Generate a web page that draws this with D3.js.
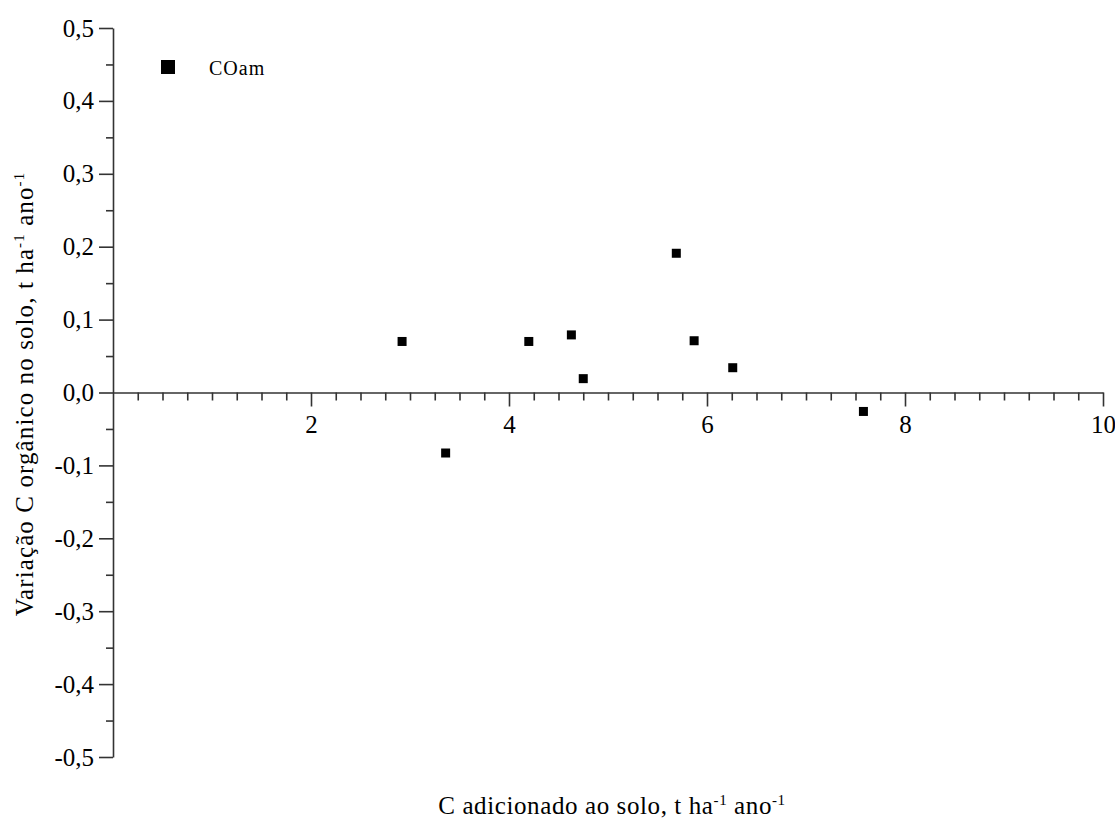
<!DOCTYPE html>
<html><head><meta charset="utf-8">
<script src="https://cdn.jsdelivr.net/npm/d3@7"></script>
<style>body{margin:0;background:#fff} svg text{font-family:"Liberation Serif","Times New Roman","DejaVu Serif",serif !important;} .tick text{font-size:25px;}</style>
</head><body>
<script>
const xValues = [2.92, 3.36, 4.20, 4.63, 4.75, 5.69, 5.87, 6.26, 7.58];
const yValues = [0.07, -0.083, 0.07, 0.079, 0.019, 0.191, 0.071, 0.034, -0.026];
const seriesName = "COam";
const xTicks = [2, 4, 6, 8, 10];
const yTicks = [-0.5, -0.4, -0.3, -0.2, -0.1, 0, 0.1, 0.2, 0.3, 0.4, 0.5];

const W = 1115, H = 818;
const svg = d3.select("body").append("svg").attr("width", W).attr("height", H);
const x = d3.scaleLinear().domain([0, 10]).range([113, 1103]);
const y = d3.scaleLinear().domain([-0.5, 0.5]).range([757, 28]);
const axisColor = "#333";
const fmt = d => d3.format(".1f")(d).replace(".", ",").replace("−", "-");

// y axis
const yAx = svg.append("g").attr("transform", `translate(${x(0)},0)`)
  .call(d3.axisLeft(y).tickValues(yTicks).tickSize(14).tickSizeOuter(0).tickFormat(fmt).tickPadding(5));
const yMinor = svg.append("g").attr("transform", `translate(${x(0)},0)`)
  .call(d3.axisLeft(y).tickValues(d3.range(-0.45, 0.5, 0.1)).tickSize(7).tickFormat(""));
// x axis
const xAx = svg.append("g").attr("transform", `translate(0,${y(0)})`)
  .call(d3.axisBottom(x).tickValues(xTicks).tickSize(14).tickSizeOuter(0).tickFormat(d3.format("d")).tickPadding(9));
const xMinor = svg.append("g").attr("transform", `translate(0,${y(0)})`)
  .call(d3.axisBottom(x).tickValues(d3.range(0.25, 10, 0.25).filter(v => Math.abs(v / 2 - Math.round(v / 2)) > 1e-6)).tickSize(8).tickFormat(""));
[yAx, yMinor, xAx, xMinor].forEach(g => {
  g.attr("font-family", null).attr("font-size", null);
  g.selectAll("path.domain").attr("stroke", axisColor).attr("stroke-width", 1.6);
  g.selectAll(".tick line").attr("stroke", axisColor).attr("stroke-width", 1.6);
  g.selectAll("text").style("font-size", "25px").attr("fill", "#000");
});
yMinor.select("path.domain").remove();
xMinor.select("path.domain").remove();

// points
const pts = xValues.map((v, i) => ({x: v, y: yValues[i]}));
const s = 9;
svg.append("g").selectAll("rect").data(pts).join("rect")
  .attr("x", d => x(d.x) - s / 2).attr("y", d => y(d.y) - s / 2)
  .attr("width", s).attr("height", s).attr("fill", "#000");

// legend
svg.append("rect").attr("x", 161).attr("y", 60).attr("width", 14).attr("height", 14).attr("fill", "#000");
svg.append("text").attr("x", 209).attr("y", 75).attr("font-size", 20).attr("letter-spacing", 1).text(seriesName);

// axis titles
const xt = svg.append("text").attr("x", 612).attr("y", 814).attr("text-anchor", "middle")
  .attr("font-size", 25).attr("letter-spacing", 0.6);
xt.append("tspan").text("C adicionado ao solo, t ha");
xt.append("tspan").attr("font-size", 15).attr("dy", -9).text("-1");
xt.append("tspan").attr("dy", 9).text(" ano");
xt.append("tspan").attr("font-size", 15).attr("dy", -9).text("-1");

const yt = svg.append("text").attr("transform", "translate(33,394) rotate(-90)").attr("text-anchor", "middle")
  .attr("font-size", 25).attr("letter-spacing", 1.1);
yt.append("tspan").text("Variação C orgânico no solo, t ha");
yt.append("tspan").attr("font-size", 15).attr("dy", -9).text("-1");
yt.append("tspan").attr("dy", 9).text(" ano");
yt.append("tspan").attr("font-size", 15).attr("dy", -9).text("-1");
</script>
</body></html>
